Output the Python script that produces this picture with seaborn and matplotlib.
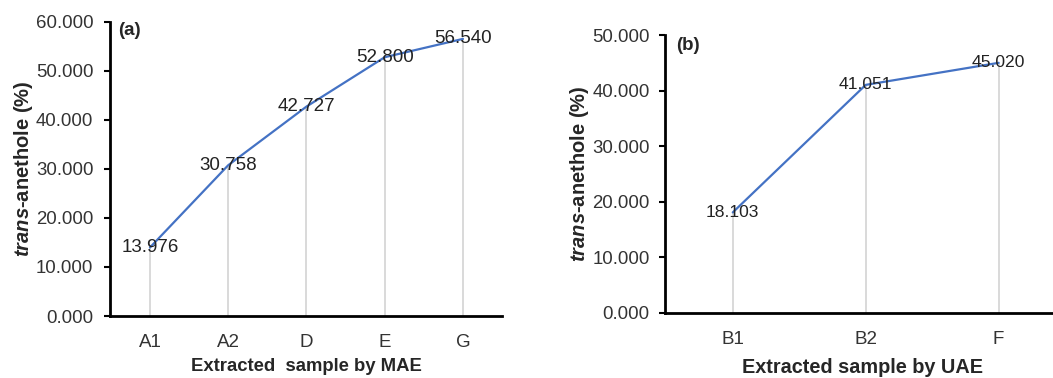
import matplotlib
matplotlib.use("Agg")
import matplotlib.pyplot as plt
import seaborn as sns
import pandas as pd

mae_samples = ["A1", "A2", "D", "E", "G"]
mae_values = [13.976, 30.758, 42.727, 52.800, 56.540]
uae_samples = ["B1", "B2", "F"]
uae_values = [18.103, 41.051, 45.020]
mae_yticks = [0, 10, 20, 30, 40, 50, 60]
uae_yticks = [0, 10, 20, 30, 40, 50]

sns.set_theme(style="white")
plt.rcParams['font.family'] = ['Liberation Sans', 'DejaVu Sans']
plt.rcParams['mathtext.fontset'] = 'custom'
plt.rcParams['mathtext.it'] = 'Liberation Sans:bold:italic'
plt.rcParams['mathtext.rm'] = 'Liberation Sans:bold'

fig = plt.figure(figsize=(10.53, 3.78), dpi=100)
ax1 = fig.add_axes([0.1045, 0.164, 0.3723, 0.778])
ax2 = fig.add_axes([0.6315, 0.172, 0.375, 0.735])

LINE = "#4472C4"
DROP = "#D9D9D9"
TXT = "#333333"


def panel(ax, cats, vals, yticks, xlim, xlabel, xl_fs, tag, tagpos, fs,
          tickpad, ylpad, xlpad):
    df = pd.DataFrame({"sample": cats, "value": vals})
    xs = list(range(len(cats)))
    ax.vlines(xs, 0, vals, colors=DROP, linewidth=1.4, zorder=1)
    sns.lineplot(data=df, x="sample", y="value", ax=ax, color=LINE,
                 linewidth=1.6, sort=False, zorder=2)
    for x, v in zip(xs, vals):
        ax.text(x, v, f"{v:.3f}", ha="center", va="center", fontsize=fs,
                color="#222222", zorder=3)
    ax.set_xlim(*xlim)
    ax.set_ylim(yticks[0], yticks[-1])
    ax.set_yticks(yticks)
    ax.set_yticklabels([f"{t:.3f}" for t in yticks], fontsize=13.4, color=TXT)
    ax.set_xticks(xs)
    ax.set_xticklabels(cats, fontsize=13.5, color=TXT)
    ax.tick_params(axis="y", which="major", length=4, width=1.5, direction="out",
                   left=True, color="black", pad=tickpad)
    ax.tick_params(axis="x", length=0, pad=13)
    for s in ["top", "right"]:
        ax.spines[s].set_visible(False)
    for s in ["left", "bottom"]:
        ax.spines[s].set_color("black")
        ax.spines[s].set_linewidth(2)
    ax.set_xlabel(xlabel, fontsize=xl_fs, fontweight="bold", labelpad=xlpad)
    ax.set_ylabel(r"$trans$-anethole (%)", fontsize=14.5, fontweight="bold",
                  labelpad=ylpad)
    ax.text(tagpos[0], tagpos[1], tag, transform=ax.transAxes, fontsize=13.5,
            fontweight="bold", ha="left", va="center")
    ax.grid(False)


panel(ax1, mae_samples, mae_values, mae_yticks, (-0.51, 4.5),
      "Extracted  sample by MAE", 13.3, "(a)", (0.02, 0.972), 13.5, 8, 0.5, 5)
panel(ax2, uae_samples, uae_values, uae_yticks, (-0.51, 2.46),
      "Extracted sample by UAE", 14.3, "(b)", (0.028, 0.962), 12.6, 7, 1, 7)

fig.savefig("out.png", dpi=100)
